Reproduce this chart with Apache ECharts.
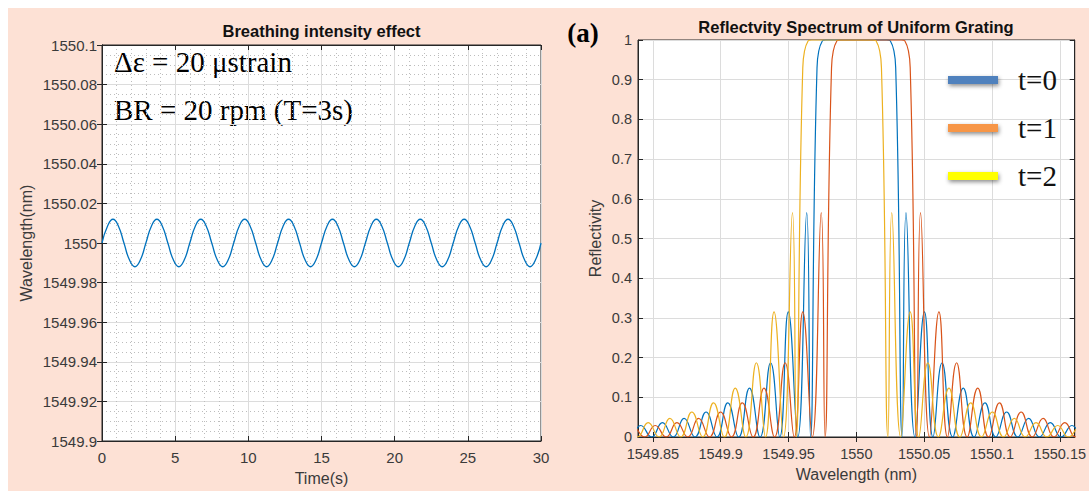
<!DOCTYPE html>
<html>
<head>
<meta charset="utf-8">
<title>Breathing intensity effect / Reflectvity Spectrum of Uniform Grating</title>
<style>
  html, body { margin: 0; padding: 0; background: #fff; }
  #wrap { position: relative; width: 1089px; height: 491px; background: #fff; }
  #paper { position: absolute; left: 8px; top: 8px; width: 1081px; height: 483px; background: #fde1d5; }
  #chart { position: absolute; left: 0; top: 0; width: 1089px; height: 491px; }
</style>
</head>
<body>
<div id="wrap">
  <div id="paper"></div>
  <div id="chart"></div>
</div>
<script src="https://cdn.jsdelivr.net/npm/echarts@6/dist/echarts.min.js"></script>
<script>
// ---- left panel: Bragg wavelength vs time, every 0.375 s ----
var breathTime = [
  0, 0.375, 0.75, 1.125, 1.5, 1.875, 2.25, 2.625,
  3, 3.375, 3.75, 4.125, 4.5, 4.875, 5.25, 5.625,
  6, 6.375, 6.75, 7.125, 7.5, 7.875, 8.25, 8.625,
  9, 9.375, 9.75, 10.125, 10.5, 10.875, 11.25, 11.625,
  12, 12.375, 12.75, 13.125, 13.5, 13.875, 14.25, 14.625,
  15, 15.375, 15.75, 16.125, 16.5, 16.875, 17.25, 17.625,
  18, 18.375, 18.75, 19.125, 19.5, 19.875, 20.25, 20.625,
  21, 21.375, 21.75, 22.125, 22.5, 22.875, 23.25, 23.625,
  24, 24.375, 24.75, 25.125, 25.5, 25.875, 26.25, 26.625,
  27, 27.375, 27.75, 28.125, 28.5, 28.875, 29.25, 29.625,
  30
];
var breathWl = [
  1550, 1550.0085, 1550.012, 1550.0085, 1550, 1549.9915, 1549.988, 1549.9915,
  1550, 1550.0085, 1550.012, 1550.0085, 1550, 1549.9915, 1549.988, 1549.9915,
  1550, 1550.0085, 1550.012, 1550.0085, 1550, 1549.9915, 1549.988, 1549.9915,
  1550, 1550.0085, 1550.012, 1550.0085, 1550, 1549.9915, 1549.988, 1549.9915,
  1550, 1550.0085, 1550.012, 1550.0085, 1550, 1549.9915, 1549.988, 1549.9915,
  1550, 1550.0085, 1550.012, 1550.0085, 1550, 1549.9915, 1549.988, 1549.9915,
  1550, 1550.0085, 1550.012, 1550.0085, 1550, 1549.9915, 1549.988, 1549.9915,
  1550, 1550.0085, 1550.012, 1550.0085, 1550, 1549.9915, 1549.988, 1549.9915,
  1550, 1550.0085, 1550.012, 1550.0085, 1550, 1549.9915, 1549.988, 1549.9915,
  1550, 1550.0085, 1550.012, 1550.0085, 1550, 1549.9915, 1549.988, 1549.9915,
  1550
];

// ---- right panel: reflectivity spectrum, peaks and nulls ----
// offset (nm) from each grating's centre wavelength
var lobeOffset = [
  -0.183, -0.175, -0.167, -0.159, -0.151, -0.143, -0.135, -0.127, -0.119,
  -0.1108, -0.1028, -0.0948, -0.0868, -0.0788, -0.071, -0.0632, -0.0565,
  -0.0502, -0.0432, -0.0366, -0.0338, -0.029, -0.025, -0.0225,
  0,
  0.0225, 0.025, 0.029, 0.0338, 0.0366, 0.0432, 0.0502,
  0.0565, 0.0632, 0.071, 0.0788, 0.0868, 0.0948, 0.1028, 0.1108,
  0.119, 0.127, 0.135, 0.143, 0.151, 0.159, 0.167, 0.175, 0.183
];
var lobeRefl = [
  0, 0.024, 0, 0.029, 0, 0.036, 0, 0.047, 0,
  0.063, 0, 0.086, 0, 0.123, 0, 0.187, 0,
  0.315, 0, 0.565, 0, 0.93, 0.998, 1,
  1,
  1, 0.998, 0.93, 0, 0.565, 0, 0.315,
  0, 0.187, 0, 0.123, 0, 0.086, 0, 0.063,
  0, 0.047, 0, 0.036, 0, 0.029, 0, 0.024, 0
];
var specNames = ['t=0', 't=1', 't=2'];
var specCentre = [1550.000, 1550.0107, 1549.9895];
var specColors = ['#0072BD', '#D95319', '#EDB120'];
var legendColors = ['#4f81bd', '#f79646', '#ffff00'];
var specTicks = [1549.85, 1549.9, 1549.95, 1550, 1550.05, 1550.1, 1550.15];

var axisColor = '#262626';
var labelColor = '#3a3a3a';
var gridColor = '#dcdcdc';
var sans = 'Liberation Sans, Arial, sans-serif';
var serif = 'Liberation Serif, Times New Roman, serif';

function fmt(v) { return String(parseFloat((+v).toFixed(4))); }

var chart = echarts.init(document.getElementById('chart'), null, { renderer: 'svg' });

var tickStyle = { show: true, inside: true, length: 5, lineStyle: { color: axisColor } };
var lineStyleAxis = { show: true, lineStyle: { color: axisColor, width: 1 } };
var labelLeft = { color: labelColor, fontFamily: sans, fontSize: 15 };
var labelRight = { color: labelColor, fontFamily: sans, fontSize: 14.5 };
var nameStyle = { color: labelColor, fontFamily: sans, fontSize: 16 };

var specSeries = specNames.map(function (name, s) {
  return {
    name: name,
    type: 'line',
    xAxisIndex: 2,
    yAxisIndex: 2,
    smooth: true,
    showSymbol: false,
    clip: true,
    lineStyle: { color: specColors[s], width: 1.2 },
    itemStyle: { color: specColors[s] },
    data: lobeOffset.map(function (o, i) { return [specCentre[s] + o, lobeRefl[i]]; })
  };
});

var option = {
  animation: false,
  backgroundColor: 'transparent',
  grid: [
    { left: 102, top: 45, width: 439, height: 400, show: true, backgroundColor: '#fff', borderColor: axisColor, borderWidth: 1 },
    { left: 638, top: 40, width: 437, height: 397, show: true, backgroundColor: '#fff', borderColor: axisColor, borderWidth: 1 }
  ],
  xAxis: [
    {
      gridIndex: 0, type: 'value', min: 0, max: 30, interval: 5,
      name: 'Time(s)', nameLocation: 'middle', nameGap: 29, nameTextStyle: nameStyle,
      axisLine: lineStyleAxis, axisTick: tickStyle,
      axisLabel: Object.assign({ margin: 9 }, labelLeft),
      splitLine: { show: true, lineStyle: { color: gridColor } },
      minorTick: { show: false, splitNumber: 5 },
      minorSplitLine: { show: true, lineStyle: { color: '#bdbdbd', type: [1, 3] } }
    },
    {
      gridIndex: 0, type: 'value', position: 'top', min: 0, max: 30, interval: 5,
      axisLine: lineStyleAxis, axisTick: tickStyle, axisLabel: { show: false }, splitLine: { show: false }
    },
    {
      gridIndex: 1, type: 'value', min: 1549.839, max: 1550.161,
      name: 'Wavelength (nm)', nameLocation: 'middle', nameGap: 29, nameTextStyle: nameStyle,
      axisLine: lineStyleAxis,
      axisTick: Object.assign({ customValues: specTicks }, tickStyle),
      axisLabel: Object.assign({ margin: 9, customValues: specTicks, formatter: fmt }, labelRight),
      splitLine: { show: true, lineStyle: { color: gridColor } }
    },
    {
      gridIndex: 1, type: 'value', position: 'top', min: 1549.839, max: 1550.161,
      axisLine: lineStyleAxis,
      axisTick: Object.assign({ customValues: specTicks }, tickStyle),
      axisLabel: { show: false, customValues: specTicks }, splitLine: { show: false }
    }
  ],
  yAxis: [
    {
      gridIndex: 0, type: 'value', min: 1549.9, max: 1550.1, interval: 0.02,
      name: 'Wavelength(nm)', nameLocation: 'middle', nameGap: 68, nameTextStyle: nameStyle,
      axisLine: lineStyleAxis, axisTick: tickStyle,
      axisLabel: Object.assign({ margin: 5, formatter: fmt }, labelLeft),
      splitLine: { show: true, lineStyle: { color: gridColor } },
      minorTick: { show: false, splitNumber: 4 },
      minorSplitLine: { show: true, lineStyle: { color: '#bdbdbd', type: [1, 3] } }
    },
    {
      gridIndex: 0, type: 'value', position: 'right', min: 1549.9, max: 1550.1, interval: 0.02,
      axisLine: lineStyleAxis, axisTick: tickStyle, axisLabel: { show: false }, splitLine: { show: false }
    },
    {
      gridIndex: 1, type: 'value', min: 0, max: 1, interval: 0.1,
      name: 'Reflectivity', nameLocation: 'middle', nameGap: 35, nameTextStyle: nameStyle,
      axisLine: lineStyleAxis, axisTick: tickStyle,
      axisLabel: Object.assign({ margin: 6, formatter: fmt }, labelRight),
      splitLine: { show: true, lineStyle: { color: gridColor } }
    },
    {
      gridIndex: 1, type: 'value', position: 'right', min: 0, max: 1, interval: 0.1,
      axisLine: lineStyleAxis, axisTick: tickStyle, axisLabel: { show: false }, splitLine: { show: false }
    }
  ],
  legend: {
    orient: 'vertical', left: 943, top: 60,
    itemWidth: 50, itemHeight: 8, itemGap: 18,
    selectedMode: false,
    textStyle: { fontFamily: serif, fontSize: 29, color: '#111', lineHeight: 30, padding: [0, 0, 0, 15] },
    data: specNames.map(function (name, s) {
      return {
        name: name, icon: 'rect',
        itemStyle: { color: legendColors[s], shadowBlur: 4, shadowColor: 'rgba(0,0,0,0.45)', shadowOffsetX: 1, shadowOffsetY: 2 }
      };
    })
  },
  graphic: [
    { type: 'text', x: 321.5, y: 31, style: { text: 'Breathing intensity effect', font: 'bold 16.5px ' + sans, fill: '#111', align: 'center', verticalAlign: 'middle' } },
    { type: 'text', x: 856, y: 27, style: { text: 'Reflectvity Spectrum of Uniform Grating', font: 'bold 16.5px ' + sans, fill: '#111', align: 'center', verticalAlign: 'middle' } },
    { type: 'text', x: 114, y: 62, style: { text: 'Δε = 20 μstrain', font: '29px ' + serif, fill: '#000', align: 'left', verticalAlign: 'middle' } },
    { type: 'text', x: 114, y: 110, style: { text: 'BR = 20 rpm (T=3s)', font: '29px ' + serif, fill: '#000', align: 'left', verticalAlign: 'middle' } },
    { type: 'text', x: 583, y: 33, style: { text: '(a)', font: 'bold 27px ' + serif, fill: '#000', align: 'center', verticalAlign: 'middle' } }
  ],
  series: [
    {
      name: 'breathing',
      type: 'line',
      xAxisIndex: 0,
      yAxisIndex: 0,
      smooth: true,
      showSymbol: false,
      lineStyle: { color: '#0072BD', width: 1.3 },
      data: breathTime.map(function (t, i) { return [t, breathWl[i]]; })
    }
  ].concat(specSeries)
};

chart.setOption(option);
</script>
</body>
</html>
